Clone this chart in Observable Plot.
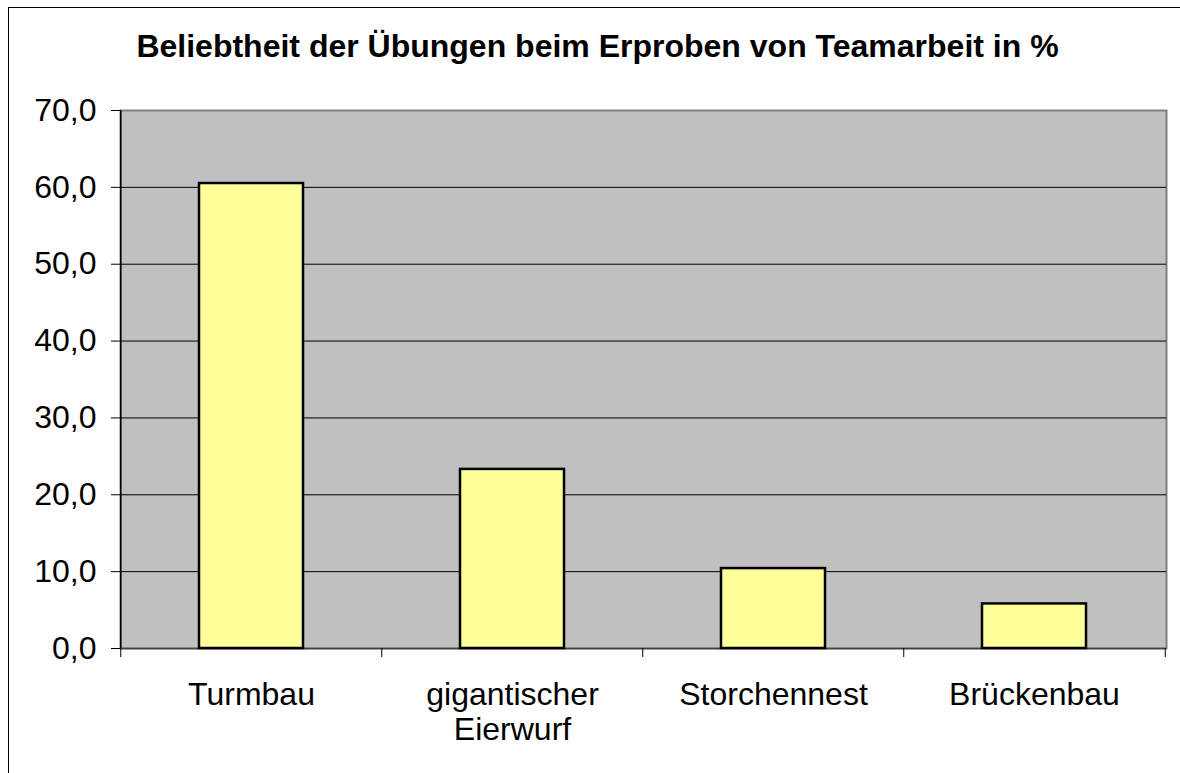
<!DOCTYPE html>
<html>
<head>
<meta charset="utf-8">
<script src="https://cdn.jsdelivr.net/npm/d3@7"></script>
<script src="https://cdn.jsdelivr.net/npm/@observablehq/plot@0.6"></script>
<style>
  html, body { margin: 0; padding: 0; background: #fff; overflow: hidden; }
  #wrap { position: relative; width: 1180px; height: 773px; }
  #border { position: absolute; left: 8px; top: 7px; width: 1200px; height: 800px; border: 1px solid #000; pointer-events: none; }
  svg { position: absolute; left: 0; top: 0; }
</style>
</head>
<body>
<div id="wrap"><div id="border"></div></div>
<script>
const categories = ["Turmbau", "gigantischer\nEierwurf", "Storchennest", "Brückenbau"];
const values = [60.5, 23.3, 10.4, 5.8];
const yTicks = [0, 10, 20, 30, 40, 50, 60, 70];
const gridTicks = [10, 20, 30, 40, 50, 60];
const title = "Beliebtheit der Übungen beim Erproben von Teamarbeit in %";

const data = categories.map((c, i) => ({category: c, value: values[i]}));

const W = 1180, H = 773;
const mL = 120, mR = 14, mT = 110, mB = 125;
const step = (W - mL - mR) / categories.length;
const fmt = d => d3.format(".1f")(d).replace(".", ",");
const font = "Liberation Sans, Arial, Helvetica, sans-serif";

const chart = Plot.plot({
  width: W,
  height: H,
  marginLeft: mL,
  marginRight: mR,
  marginTop: mT,
  marginBottom: mB,
  style: {fontFamily: font, color: "#000", background: "transparent"},
  x: {type: "band", domain: categories, paddingInner: 0.6, paddingOuter: 0.3, align: 0.5},
  y: {domain: [0, 70]},
  marks: [
    Plot.frame({fill: "#c0c0c0", stroke: "#808080", strokeWidth: 2}),
    Plot.ruleY(gridTicks, {stroke: "#000", strokeWidth: 1}),
    Plot.ruleY([0], {stroke: "#404040", strokeWidth: 1.5}),
    Plot.ruleX([categories[0]], {dx: -step / 2, stroke: "#000", strokeWidth: 1.5}),
    Plot.barY(data, {x: "category", y: "value", fill: "#ffff99", stroke: "#000", strokeWidth: 2.5}),
    Plot.axisY({ticks: yTicks, tickFormat: fmt, tickSize: 9, tickPadding: 15, fontSize: 32, label: null, stroke: "#000"}),
    Plot.axisX({tickSize: 9, dx: -step / 2, tickFormat: () => "", label: null}),
    Plot.axisX({ticks: [categories[categories.length - 1]], tickSize: 9, dx: step / 2, tickFormat: () => "", label: null}),
    Plot.axisX({tickSize: 0, tickPadding: 31, fontSize: 32, label: null, lineHeight: 1.1}),
    Plot.text([title], {frameAnchor: "top", dy: -54, dx: -46, fontSize: 32, fontWeight: "bold", fill: "#000", lineAnchor: "bottom"})
  ]
});
document.getElementById("wrap").appendChild(chart);
</script>
</body>
</html>
